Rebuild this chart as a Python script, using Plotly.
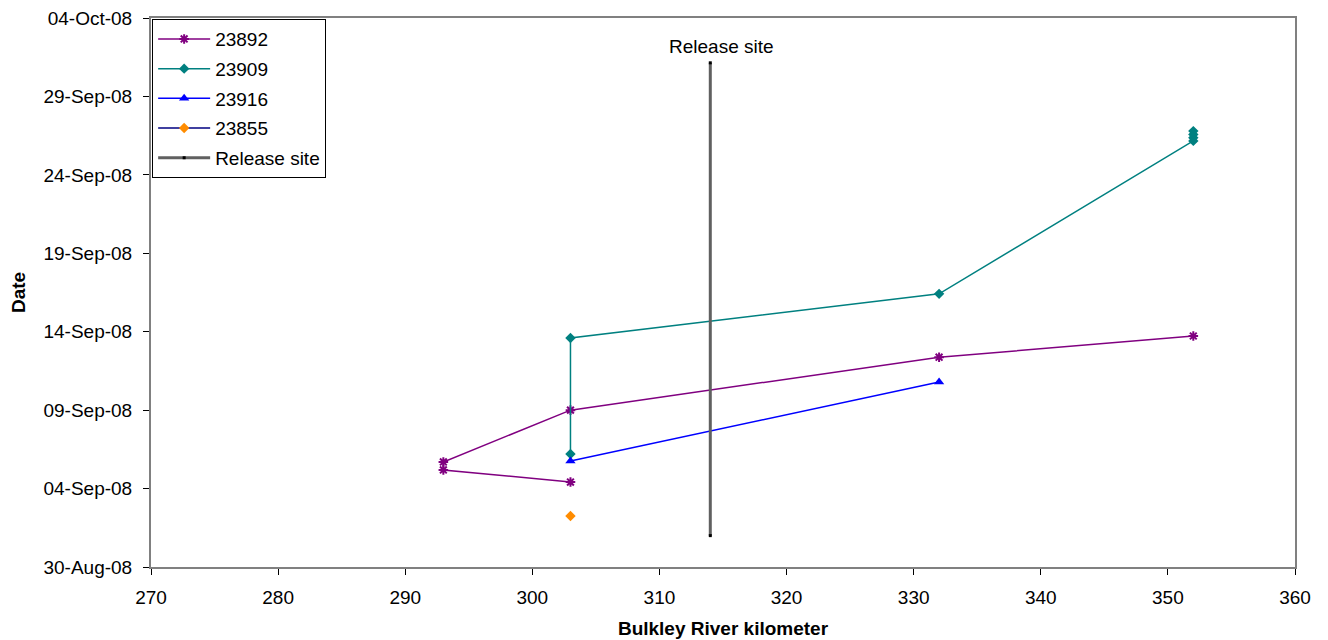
import plotly.graph_objects as go

# 23892
km_23892 = [303, 293, 293, 303, 332, 352]
date_23892 = ["2008-09-04 10:00", "2008-09-05 04:30", "2008-09-05 16:45", "2008-09-09 00:00", "2008-09-12 09:00", "2008-09-13 17:30"]
# 23909
km_23909 = [303, 303, 332, 352, 352, 352, 352]
date_23909 = ["2008-09-06 05:00", "2008-09-13 14:30", "2008-09-16 10:00", "2008-09-26 04:00", "2008-09-26 09:00", "2008-09-26 14:00", "2008-09-26 19:00"]
# 23916
km_23916 = [303, 332]
date_23916 = ["2008-09-05 18:15", "2008-09-10 19:10"]
# 23855
km_23855 = [303]
date_23855 = ["2008-09-02 06:00"]
# Release site
km_release = [314, 314]
date_release = ["2008-09-01 00:00", "2008-10-01 03:30"]

y_ticks = ["2008-08-30", "2008-09-04", "2008-09-09", "2008-09-14", "2008-09-19",
           "2008-09-24", "2008-09-29", "2008-10-04"]
y_tick_labels = ["30-Aug-08", "04-Sep-08", "09-Sep-08", "14-Sep-08", "19-Sep-08",
                 "24-Sep-08", "29-Sep-08", "04-Oct-08"]
y_range = ["2008-08-30", "2008-10-04 00:05"]
x_range = [270, 360]

fig = go.Figure()
fig.add_trace(go.Scatter(x=km_23892, y=date_23892, name="23892", mode="lines+markers", legendgroup="a",
                         line=dict(color="#800080", width=1.5),
                         marker=dict(symbol="asterisk-open", size=8, color="#800080", line=dict(width=2, color="#800080"))))
fig.add_trace(go.Scatter(x=km_23909, y=date_23909, name="23909", mode="lines+markers", legendgroup="b",
                         line=dict(color="#008080", width=1.5),
                         marker=dict(symbol="diamond", size=8, color="#008080")))
fig.add_trace(go.Scatter(x=km_23916, y=date_23916, name="23916", mode="lines+markers", legendgroup="c",
                         line=dict(color="#0000FF", width=1.5),
                         marker=dict(symbol="triangle-up", size=9, color="#0000FF")))
fig.add_trace(go.Scatter(x=km_23855, y=date_23855, name="23855", mode="lines+markers", legendgroup="d",
                         line=dict(color="#000080", width=1.5),
                         marker=dict(symbol="diamond", size=8, color="#FF8C00")))
fig.add_trace(go.Scatter(x=km_release, y=date_release, name="Release site", mode="lines+markers", legendgroup="e",
                         line=dict(color="#606060", width=3),
                         marker=dict(symbol="square", size=3, color="#000000")))

fig.add_annotation(x=km_release[1], y=date_release[1], text="Release site", showarrow=False,
                   yanchor="bottom", yshift=4, xshift=11, font=dict(size=19, color="#000000"))

fig.update_layout(
    width=1328, height=640,
    margin=dict(l=143, r=41, t=10, b=81),
    paper_bgcolor="white", plot_bgcolor="white",
    font=dict(family="Liberation Sans, Arial", size=19, color="#000000"),
    showlegend=True,
    legend=dict(x=0.001, y=0.998, xanchor="left", yanchor="top", bgcolor="white",
                bordercolor="#000000", borderwidth=1, font=dict(size=19),
                tracegroupgap=2, itemwidth=52),
)
fig.update_xaxes(range=x_range, dtick=10, showgrid=False, zeroline=False, automargin=False,
                 showline=True, linecolor="#808080", linewidth=2, mirror=True,
                 ticks="outside", ticklen=6, tickcolor="#000000", ticklabelstandoff=6,
                 title=dict(text="<b>Bulkley River kilometer</b>", font=dict(size=19), standoff=15),
                 tickfont=dict(size=19))
fig.update_yaxes(type="date", range=y_range, tickmode="array", tickvals=y_ticks, ticktext=y_tick_labels,
                 showgrid=False, zeroline=False, ticklabeloverflow="allow", automargin=False,
                 showline=True, linecolor="#808080", linewidth=2, mirror=True,
                 ticks="outside", ticklen=6, tickcolor="#000000", ticklabelstandoff=7,
                 title=dict(text="<b>Date</b>", font=dict(size=19), standoff=14),
                 tickfont=dict(size=19))

fig.write_html("out.html")
